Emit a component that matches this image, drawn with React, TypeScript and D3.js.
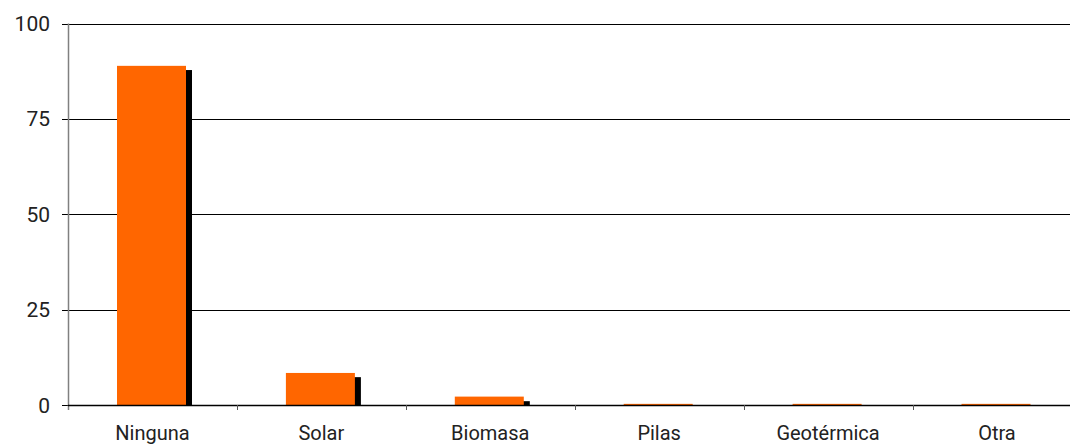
import React from "react";
import * as d3 from "d3";

const categories = ["Ninguna", "Solar", "Biomasa", "Pilas", "Geotérmica", "Otra"];
const seriesOrange = [88.9, 8.4, 2.2, 0.3, 0.3, 0.3];
const seriesBlack = [87.8, 7.3, 1.0, 0, 0, 0];
const yTicks = [0, 25, 50, 75, 100];

export default function App() {
  const width = 1070;
  const height = 444;
  const left = 68;
  const right = 68 + 6 * 168.9;
  const top = 23.5;
  const bottom = 405;

  const x = d3.scaleBand<string>().domain(categories).range([left, right]).paddingInner(0).paddingOuter(0);
  const y = d3.scaleLinear().domain([0, 100]).range([bottom, top]);
  const bw = x.bandwidth();
  const barW = 69;
  const barOff = 49;
  const shift = 6;
  const font = "Roboto, 'DejaVu Sans', sans-serif";

  return (
    <svg width={width} height={height} style={{ position: "absolute", left: 0, top: 0, display: "block" }}>
      <rect x={0} y={0} width={width} height={height} fill="#fff" />
      {yTicks.map((t) => (
        <g key={t}>
          <line x1={left - 6} x2={width} y1={Math.round(y(t)) + 0.5} y2={Math.round(y(t)) + 0.5} stroke="#000" strokeWidth={1} />
          <text x={50} y={y(t) + 7.5} textAnchor="end" fontFamily={font} fontSize={21} fill="#222">{t}</text>
        </g>
      ))}
      {categories.map((c, i) => (
        <rect key={"b" + c} x={x(c)! + barOff + shift} y={y(seriesBlack[i])} width={barW} height={bottom - y(seriesBlack[i])} fill="#000" />
      ))}
      {categories.map((c, i) => (
        <rect key={"o" + c} x={x(c)! + barOff} y={y(seriesOrange[i])} width={barW} height={bottom - y(seriesOrange[i])} fill="#ff6600" />
      ))}
      <line x1={left + 0.5} x2={left + 0.5} y1={top} y2={bottom + 5} stroke="#808080" strokeWidth={1.5} />
      <line x1={left} x2={width} y1={bottom + 0.5} y2={bottom + 0.5} stroke="#000" strokeWidth={1.5} />
      {categories.slice(1).map((c) => (
        <line key={"t" + c} x1={Math.round(x(c)!) + 0.5} x2={Math.round(x(c)!) + 0.5} y1={bottom} y2={bottom + 5} stroke="#555" strokeWidth={1} />
      ))}
      {categories.map((c) => (
        <text key={"l" + c} x={x(c)! + bw / 2} y={440} textAnchor="middle" fontFamily={font} fontSize={20} fill="#222">{c}</text>
      ))}
    </svg>
  );
}
